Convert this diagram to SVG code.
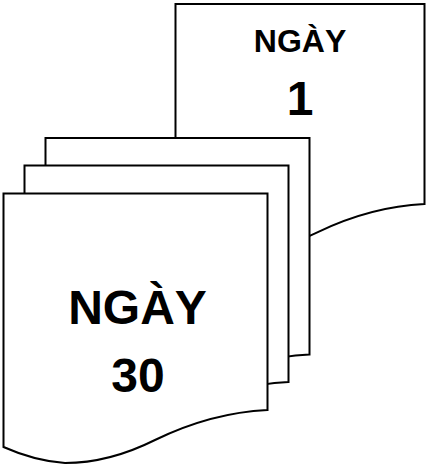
<svg xmlns="http://www.w3.org/2000/svg" width="426" height="465" viewBox="0 0 426 465">
<style>
.page{fill:#ffffff;stroke:#000000;stroke-width:2;stroke-linejoin:miter}
.t{font-family:"Liberation Sans",Arial,sans-serif;font-weight:bold;fill:#000000;text-anchor:middle}
</style>
<defs>
<path id="doc" d="M0,0 H264 V216.5 C221.5,218.5 186.5,229.5 151.5,246.5 C121.5,261.5 91.5,269.5 61.5,269.5 Q31.5,267.5 0,253.5 Z"/>
</defs>
<rect width="426" height="465" fill="#ffffff"/>
<g id="day1">
<path class="page" d="M175.5,4 H424.5 V204 C384.4,205.9 351.4,216.1 318.4,231.8 C290.1,245.6 261.8,253 233.5,253 Q205.2,251.2 175.5,238.2 Z"/>
<text class="t" x="300" y="52" font-size="32">NGÀY</text>
<text class="t" x="300" y="115" font-size="48">1</text>
</g>
<g id="page-back">
<use href="#doc" class="page" transform="translate(45.5,138)"/>
</g>
<g id="page-middle">
<use href="#doc" class="page" transform="translate(24.5,165.5)"/>
</g>
<g id="day30">
<use href="#doc" class="page" transform="translate(3.5,193.5)"/>
<text class="t" x="137.5" y="324" font-size="48">NGÀY</text>
<text class="t" x="138" y="392" font-size="48">30</text>
</g>
</svg>
